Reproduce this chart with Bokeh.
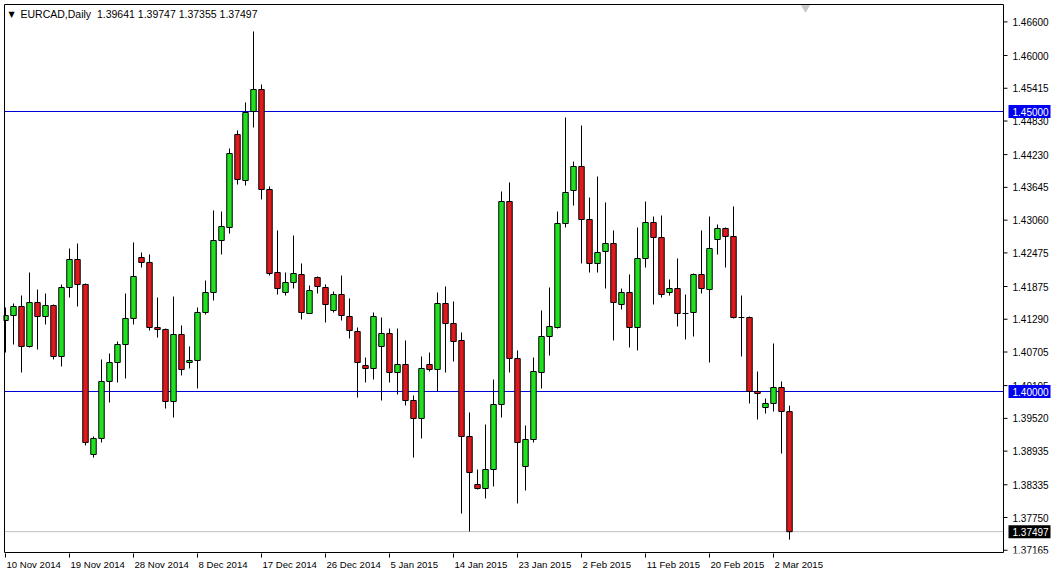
from bokeh.plotting import figure
from bokeh.models import Range1d, FixedTicker, LinearAxis, Label, ColumnDataSource
from bokeh.embed import file_html
from bokeh.resources import INLINE

# ---- data (EURCAD daily, one bar per trading day incl. Sunday bars) ----
opens = [1.41268, 1.41357, 1.41518, 1.40804, 1.41589, 1.41339, 1.41536, 1.40625, 1.41857, 1.42357,
         1.41911, 1.38875, 1.39161, 1.40179, 1.40518, 1.40839, 1.41304, 1.42393, 1.42304, 1.41143,
         1.41107, 1.39821, 1.41018, 1.40518, 1.40554, 1.41411, 1.41768, 1.42696, 1.42929, 1.44589,
         1.43768, 1.45000, 1.45393, 1.43607, 1.42125, 1.41768, 1.41946, 1.42089, 1.41393, 1.42036,
         1.41857, 1.41446, 1.41732, 1.41339, 1.41071, 1.40464, 1.40411, 1.40804, 1.41036, 1.40339,
         1.40482, 1.39839, 1.39518, 1.40482, 1.40393, 1.41571, 1.41214, 1.40911, 1.39196, 1.38339,
         1.38268, 1.38607, 1.39768, 1.43393, 1.40589, 1.38661, 1.39143, 1.40339, 1.40982, 1.41143,
         1.43000, 1.43589, 1.44018, 1.43071, 1.42286, 1.42500, 1.42643, 1.41554, 1.41768, 1.41143,
         1.42375, 1.43018, 1.42750, 1.41768, 1.41839, 1.41393, 1.41411, 1.42089, 1.41821, 1.42714,
         1.42911, 1.42768, 1.41321, 1.41321, 1.40000, 1.39714, 1.39786, 1.40071, 1.39641]
highs = [1.41500, 1.41571, 1.41714, 1.42125, 1.41821, 1.41750, 1.41554, 1.41911, 1.42554, 1.42643,
         1.41929, 1.39196, 1.40571, 1.40679, 1.40893, 1.41750, 1.42661, 1.42482, 1.42446, 1.41679,
         1.41125, 1.41696, 1.41179, 1.40804, 1.41500, 1.41982, 1.43232, 1.43214, 1.44339, 1.44661,
         1.45161, 1.46429, 1.45482, 1.43661, 1.42875, 1.42125, 1.42786, 1.42286, 1.41893, 1.42054,
         1.41911, 1.41786, 1.42071, 1.41661, 1.41143, 1.40607, 1.41411, 1.41321, 1.41125, 1.41125,
         1.40911, 1.39929, 1.40625, 1.40696, 1.41768, 1.41875, 1.41607, 1.41054, 1.39625, 1.38607,
         1.39411, 1.40214, 1.43571, 1.43732, 1.40732, 1.39393, 1.40607, 1.41446, 1.41857, 1.43214,
         1.44893, 1.44107, 1.44750, 1.43464, 1.43839, 1.43375, 1.42875, 1.41839, 1.42089, 1.42929,
         1.43393, 1.43125, 1.43143, 1.42000, 1.42375, 1.41732, 1.42107, 1.42875, 1.43125, 1.42982,
         1.42929, 1.43304, 1.41714, 1.41339, 1.40357, 1.39875, 1.40857, 1.40179, 1.39747]
lows = [1.40696, 1.40839, 1.40339, 1.40786, 1.40750, 1.41196, 1.40571, 1.40446, 1.41679, 1.41518,
        1.39036, 1.38821, 1.39089, 1.39804, 1.40161, 1.40232, 1.41196, 1.42214, 1.41089, 1.40964,
        1.39696, 1.39536, 1.40286, 1.40411, 1.40054, 1.41375, 1.41625, 1.42446, 1.42821, 1.43696,
        1.43679, 1.44714, 1.43429, 1.42071, 1.41732, 1.41714, 1.41839, 1.41286, 1.41393, 1.41750,
        1.41232, 1.41411, 1.41268, 1.40946, 1.39893, 1.40161, 1.40214, 1.39839, 1.40161, 1.39946,
        1.39750, 1.38821, 1.39161, 1.40357, 1.40000, 1.40339, 1.40536, 1.37821, 1.37500, 1.38250,
        1.38089, 1.38304, 1.39536, 1.40339, 1.38000, 1.38232, 1.39089, 1.40054, 1.40643, 1.41125,
        1.42929, 1.43321, 1.42286, 1.42125, 1.42125, 1.41839, 1.40911, 1.41464, 1.40786, 1.40732,
        1.42214, 1.41554, 1.41679, 1.41714, 1.41161, 1.40929, 1.40982, 1.41750, 1.40518, 1.42446,
        1.42214, 1.41304, 1.40625, 1.39786, 1.39500, 1.39607, 1.39643, 1.38893, 1.37355]
closes = [1.41357, 1.41518, 1.40804, 1.41589, 1.41339, 1.41536, 1.40625, 1.41857, 1.42357, 1.41911,
          1.39089, 1.39161, 1.40179, 1.40518, 1.40839, 1.41304, 1.42054, 1.42304, 1.41143, 1.41107,
          1.39821, 1.41018, 1.40393, 1.40554, 1.41411, 1.41768, 1.42696, 1.42946, 1.44250, 1.43786,
          1.44982, 1.45393, 1.43607, 1.42107, 1.41839, 1.41946, 1.42107, 1.41411, 1.41804, 1.41875,
          1.41554, 1.41732, 1.41357, 1.41089, 1.40518, 1.40411, 1.41339, 1.41036, 1.40339, 1.40482,
          1.39839, 1.39518, 1.40411, 1.40393, 1.41571, 1.41214, 1.40893, 1.39196, 1.38554, 1.38268,
          1.38607, 1.39768, 1.43393, 1.40589, 1.39089, 1.39143, 1.40357, 1.40982, 1.41161, 1.43000,
          1.43554, 1.44018, 1.43071, 1.42286, 1.42482, 1.42643, 1.41589, 1.41768, 1.41143, 1.42375,
          1.43018, 1.42750, 1.41732, 1.41839, 1.41393, 1.41393, 1.42089, 1.41839, 1.42554, 1.42911,
          1.42768, 1.41321, 1.41321, 1.40000, 1.39964, 1.39786, 1.40071, 1.39643, 1.37497]

date_tick_bars = [0, 8, 16, 24, 32, 40, 48, 56, 64, 72, 80, 88, 96]
date_tick_labels = ["10 Nov 2014", "19 Nov 2014", "28 Nov 2014", "8 Dec 2014", "17 Dec 2014",
                    "26 Dec 2014", "5 Jan 2015", "14 Jan 2015", "23 Jan 2015", "2 Feb 2015",
                    "11 Feb 2015", "20 Feb 2015", "2 Mar 2015"]
price_ticks = [1.46600, 1.46000, 1.45415, 1.44830, 1.44230, 1.43645, 1.43060, 1.42475, 1.41875,
               1.41290, 1.40705, 1.40105, 1.39520, 1.38935, 1.38335, 1.37750, 1.37165]
level_lines = [1.45000, 1.40000]
last_price = 1.37497
title_text = "EURCAD,Daily\u00a0 1.39641 1.39747 1.37355 1.37497"

# ---- layout constants (pixels per bar / per price unit of the MT4 window) ----
W, H = 1053, 573
BAR_PX = 8.0
PRICE_PX = 5600.0
FONT = "Liberation Sans"
FS = "10px"
DATE_FS = "9.6px"
BULL = "#20E020"
BEAR = "#E01A1A"
LEVEL_COL = "#0000D8"

# frame: x 3..1053, y 3..553 ; chart box x 4..1003, y 4..552
X0 = -0.25
X_END = X0 + (W - 3) / BAR_PX
CHART_L = X0 + 1 / BAR_PX
CHART_R = CHART_L + 999 / BAR_PX
Y_T = 1.45 + (111 - 4) / PRICE_PX
Y_B = 1.45 - (552 - 111) / PRICE_PX
Y1 = Y_T + 1 / PRICE_PX
Y0 = Y_B - 1 / PRICE_PX

n = len(opens)
bars = list(range(n))
colors = [BULL if c >= o else BEAR for o, c in zip(opens, closes)]
src = ColumnDataSource(dict(x=bars, o=opens, h=highs, l=lows, c=closes,
                            top=[max(o, c) for o, c in zip(opens, closes)],
                            bot=[min(o, c) for o, c in zip(opens, closes)],
                            col=colors))

p = figure(width=W, height=H, output_backend="svg", toolbar_location=None,
           x_range=Range1d(X0, X_END), y_range=Range1d(Y0, Y1),
           x_axis_location=None, y_axis_location=None,
           min_border_left=3, min_border_top=3, min_border_right=0, min_border_bottom=20)
p.xgrid.visible = False
p.ygrid.visible = False
p.outline_line_color = None
p.background_fill_color = "white"
p.border_fill_color = "white"

# ---- date axis: tick marks at bars, labels starting at the tick (MT4 style) ----
tick_axis = LinearAxis(ticker=FixedTicker(ticks=date_tick_bars),
                       major_label_overrides={b: "" for b in date_tick_bars})
tick_axis.major_tick_in = 0
tick_axis.major_tick_out = 4
tick_axis.minor_tick_line_color = None
tick_axis.axis_line_color = None
tick_axis.major_tick_line_color = "black"
tick_axis.major_label_text_font_size = "0px"
tick_axis.major_label_standoff = 0
p.add_layout(tick_axis, "below")

CW = {" ": 278, "N": 722, "o": 556, "v": 500, "D": 722, "e": 556, "c": 500, "J": 500,
      "a": 556, "n": 556, "F": 611, "b": 556, "M": 833, "r": 333}
def text_px(s):
    return sum(CW.get(ch, 556) for ch in s) * 9.6 / 1000.0

label_pos = [round(b + (text_px(t) / 2 + 1) / BAR_PX, 4) for b, t in zip(date_tick_bars, date_tick_labels)]
label_axis = LinearAxis(ticker=FixedTicker(ticks=label_pos),
                        major_label_overrides=dict(zip(label_pos, date_tick_labels)))
label_axis.major_tick_in = 0
label_axis.major_tick_out = 0
label_axis.minor_tick_line_color = None
label_axis.major_tick_line_color = None
label_axis.axis_line_color = None
label_axis.major_label_standoff = 1
label_axis.major_label_text_font = FONT
label_axis.major_label_text_font_size = DATE_FS
label_axis.major_label_text_color = "black"
p.add_layout(label_axis, "below")

# ---- level lines and last-price line (up to the chart's right border) ----
p.segment(x0=[CHART_L] * len(level_lines), x1=[CHART_R] * len(level_lines),
          y0=level_lines, y1=level_lines, line_color=LEVEL_COL, line_width=1.2)
p.segment(x0=[CHART_L], x1=[CHART_R], y0=[last_price], y1=[last_price],
          line_color="#C0C0C0", line_width=1)

# ---- candles ----
p.segment(x0="x", y0="h", x1="x", y1="l", source=src, line_color="black", line_width=1)
p.vbar(x="x", top="top", bottom="bot", width=0.68, source=src,
       fill_color="col", line_color="black", line_width=1)

# chart-shift marker at the top border
p.scatter(x=[100.0], y=[Y_T - 3 / PRICE_PX], marker="inverted_triangle", size=8,
          fill_color="#C8C8C8", line_color="#C8C8C8")

# ---- chart box ----
p.segment(x0=[CHART_L, CHART_L, CHART_R, CHART_L], x1=[CHART_L, CHART_R, CHART_R, CHART_R],
          y0=[Y_B, Y_T, Y_B, Y_B], y1=[Y_T, Y_T, Y_T, Y_B], line_color="black", line_width=1)

# ---- price scale on the right ----
TICK_LEN = 4 / BAR_PX
p.segment(x0=[CHART_R] * len(price_ticks), x1=[CHART_R + TICK_LEN] * len(price_ticks),
          y0=price_ticks, y1=price_ticks, line_color="black", line_width=1)
LBL_X = CHART_R + 9 / BAR_PX
p.text(x=[LBL_X] * len(price_ticks), y=price_ticks, text=[f"{t:.5f}" for t in price_ticks],
       text_align="left", text_baseline="middle", text_font_size=FS, text_color="black",
       text_font={"value": FONT})

BOX_L = CHART_R + 5 / BAR_PX
BOX_R = CHART_R + 47 / BAR_PX
BOX_HALF = 6.5 / PRICE_PX
box_levels = level_lines + [last_price]
box_colors = ["#0000F0", "#0000F0", "black"]
p.quad(left=[BOX_L] * 3, right=[BOX_R] * 3,
       top=[v + BOX_HALF for v in box_levels], bottom=[v - BOX_HALF for v in box_levels],
       fill_color=box_colors, line_color=None)
p.text(x=[LBL_X] * 3, y=box_levels, text=[f"{v:.5f}" for v in box_levels],
       text_align="left", text_baseline="middle", text_font_size=FS, text_color="white",
       text_font={"value": FONT})

# ---- title ----
p.add_layout(Label(x=X0, y=Y1, x_offset=5, y_offset=-6, text="\u25BC", text_baseline="top",
                   text_font="DejaVu Sans", text_font_size="8px", text_color="black"))
p.add_layout(Label(x=X0, y=Y1, x_offset=17, y_offset=-4, text=title_text, text_baseline="top",
                   text_font=FONT, text_font_size="10.5px", text_color="black"))

open("out.html", "w").write(file_html(p, INLINE))
